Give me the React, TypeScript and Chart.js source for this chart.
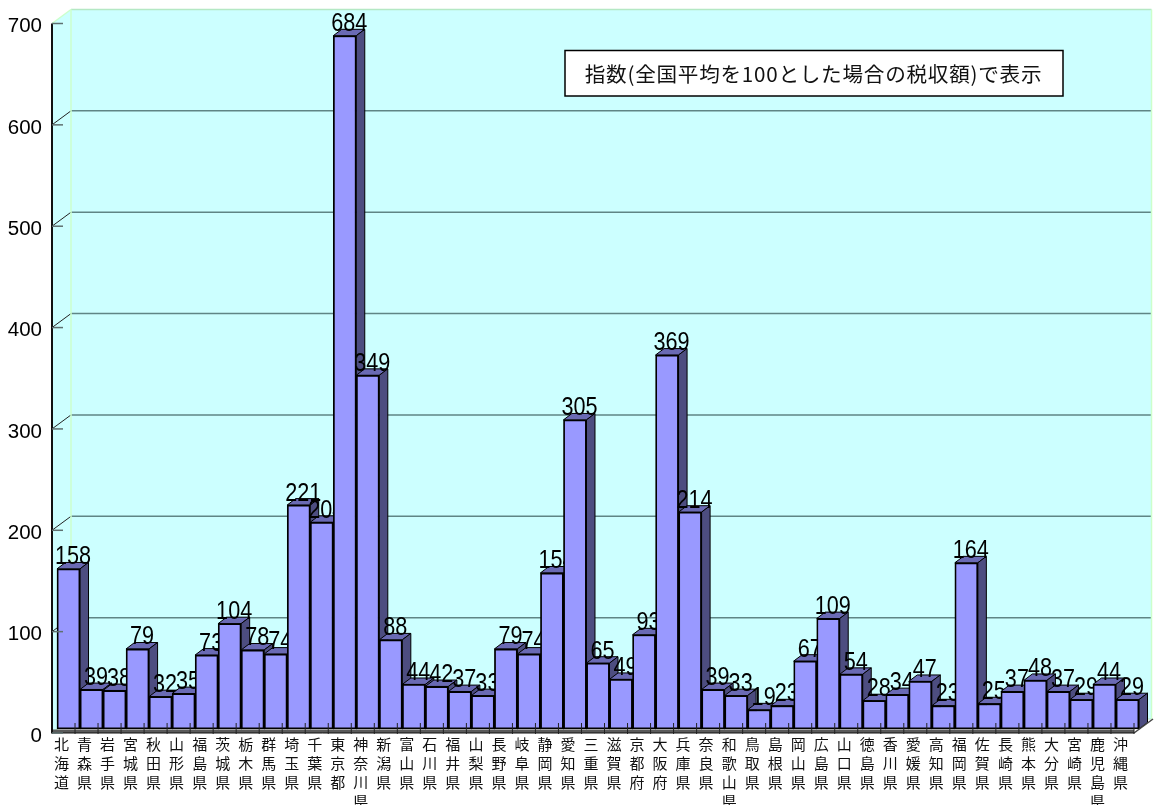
import React, { useEffect, useRef } from "react";
import { Chart, registerables } from "chart.js";

Chart.register(...registerables);

const prefectures = ["北海道","青森県","岩手県","宮城県","秋田県","山形県","福島県","茨城県","栃木県","群馬県","埼玉県","千葉県","東京都","神奈川県","新潟県","富山県","石川県","福井県","山梨県","長野県","岐阜県","静岡県","愛知県","三重県","滋賀県","京都府","大阪府","兵庫県","奈良県","和歌山県","鳥取県","島根県","岡山県","広島県","山口県","徳島県","香川県","愛媛県","高知県","福岡県","佐賀県","長崎県","熊本県","大分県","宮崎県","鹿児島県","沖縄県"];
const indexValues = [158,39,38,79,32,35,73,104,78,74,221,204,684,349,88,44,42,37,33,79,74,154,305,65,49,93,369,214,39,33,19,23,67,109,54,28,34,47,23,164,25,37,48,37,29,44,29];
const noteText = "指数(全国平均を100とした場合の税収額)で表示";

const WALL_DX = 19, WALL_DY = 14;
const BAR_OX = 5, BAR_OY = 4;
const BAR_DX = 8.5, BAR_DY = 6.4;

function poly(ctx: CanvasRenderingContext2D, pts: number[][], fill: string | null, stroke?: string, lw = 1) {
  ctx.beginPath();
  pts.forEach((p, i) => (i ? ctx.lineTo(p[0], p[1]) : ctx.moveTo(p[0], p[1])));
  ctx.closePath();
  if (fill) { ctx.fillStyle = fill; ctx.fill(); }
  if (stroke) { ctx.strokeStyle = stroke; ctx.lineWidth = lw; ctx.stroke(); }
}
function line(ctx: CanvasRenderingContext2D, x1: number, y1: number, x2: number, y2: number, c: string, lw: number) {
  ctx.beginPath(); ctx.moveTo(x1, y1); ctx.lineTo(x2, y2);
  ctx.strokeStyle = c; ctx.lineWidth = lw; ctx.stroke();
}

const walls3d = {
  id: "walls3d",
  beforeDatasetsDraw(chart: any) {
    const { ctx, scales } = chart;
    const { left: l, right: r, top: t, bottom: b } = chart.chartArea;
    const dx = WALL_DX, dy = WALL_DY;
    const wallR = r + dx - 1.5;
    ctx.save();
    poly(ctx, [[l + dx, t - dy], [wallR, t - dy], [wallR, b - dy], [l + dx, b - dy]], "#CCFFFF");
    poly(ctx, [[l, t], [l + dx, t - dy], [l + dx, b - dy], [l, b]], "#CCFFFF");
    poly(ctx, [[l, b], [l + dx, b - dy], [wallR, b - dy], [r, b]], "#FFFFFF");
    scales.y.ticks.forEach((tk: any) => {
      const y = scales.y.getPixelForValue(tk.value);
      if (tk.value > 0 && tk.value < 700) {
        line(ctx, l + dx, y - dy, wallR, y - dy, "#5F8585", 1.5);
        line(ctx, l, y, l + dx, y - dy, "#222222", 1);
      }
    });
    line(ctx, l + dx, t - dy, wallR, t - dy, "#B4E8C4", 1.5);
    line(ctx, l, t, l + dx, t - dy, "#CCFFCC", 1.5);
    line(ctx, l + dx, t - dy, l + dx, b - dy, "#CCFFCC", 1.5);
    line(ctx, wallR, t - dy, wallR, b - dy, "#CCFFCC", 1.5);
    line(ctx, l + dx, b - dy, wallR, b - dy, "#B4E8C4", 1);
    line(ctx, l, b, l + dx, b - dy, "#CCFFCC", 1.5);
    ctx.restore();
  },
  beforeDatasetDraw(chart: any, args: any) {
    const { ctx } = chart;
    const els = args.meta.data;
    ctx.save();
    ctx.translate(BAR_OX, -BAR_OY);
    els.forEach((el: any, i: number) => {
      const { x, y, base, width } = el.getProps(["x", "y", "base", "width"]);
      const L = x - width / 2, R = x + width / 2;
      poly(ctx, [[L, y], [L + BAR_DX, y - BAR_DY], [R + BAR_DX, y - BAR_DY], [R, y]], "#6A6AB4", "#000", 1);
      poly(ctx, [[R, y], [R + BAR_DX, y - BAR_DY], [R + BAR_DX, base - BAR_DY], [R, base]], "#4D4D80", "#000", 1);
      el.draw(ctx);
      ctx.save();
      ctx.translate(x + 4.5, y - 4.5);
      ctx.scale(0.865, 1);
      ctx.font = '25px "Liberation Sans"';
      ctx.fillStyle = "#000";
      ctx.textAlign = "center";
      ctx.textBaseline = "alphabetic";
      ctx.fillText(String(indexValues[i]), 0, 0);
      ctx.restore();
    });
    ctx.restore();
    return false;
  },
  afterDatasetsDraw(chart: any) {
    const { ctx, scales } = chart;
    const { left: l, right: r, top: t, bottom: b } = chart.chartArea;
    ctx.save();
    poly(ctx, [[l, b - 3.5], [r, b - 3.5], [r, b], [l, b]], "#5A5A5A");
    line(ctx, l, b, r, b, "#111111", 1);
    line(ctx, r, b, r + WALL_DX, b - WALL_DY, "#444444", 1.5);
    line(ctx, l, t, l, b + 0.5, "#111111", 2);
    scales.y.ticks.forEach((tk: any) => {
      const y = scales.y.getPixelForValue(tk.value);
      line(ctx, l, y, l + 11, y, "#5F7070", 1.5);
    });
    const n = prefectures.length;
    for (let i = 1; i <= n; i++) {
      const x = l + (i * (r - l)) / n;
      line(ctx, x, b - 10, x, b + 1, "#222222", 1);
    }
    const bx = 565, by = 50.5, bw = 498, bh = 45.5;
    ctx.fillStyle = "#FFF";
    ctx.fillRect(bx, by, bw, bh);
    ctx.strokeStyle = "#000";
    ctx.lineWidth = 1.5;
    ctx.strokeRect(bx, by, bw, bh);
    ctx.font = '20.6px "Noto Sans CJK JP"';
    ctx.fillStyle = "#111";
    ctx.textAlign = "center";
    ctx.textBaseline = "middle";
    (ctx as any).letterSpacing = "0.75px";
    ctx.fillText(noteText, bx + bw / 2 - 0.5, by + bh / 2 + 1);
    ctx.restore();
  },
};

export default function App() {
  const ref = useRef<HTMLCanvasElement>(null);
  useEffect(() => {
    const chart = new Chart(ref.current!, {
      type: "bar",
      data: {
        labels: prefectures.map((p) => Array.from(p)),
        datasets: [{
          data: indexValues,
          backgroundColor: "#9999FF",
          borderColor: "#000000",
          borderWidth: 1.8,
          borderSkipped: false,
          barPercentage: 1,
          categoryPercentage: 1,
        }],
      },
      options: {
        responsive: false,
        animation: false,
        layout: { padding: { top: 23.5, right: 21, left: 0, bottom: 0 } },
        plugins: { legend: { display: false }, title: { display: false }, tooltip: { enabled: false } },
        scales: {
          x: {
            grid: { display: false, drawTicks: false },
            border: { display: false },
            afterFit: (s: any) => { s.height = 72; },
            ticks: {
              autoSkip: false,
              maxRotation: 0,
              minRotation: 0,
              padding: 2,
              labelOffset: -2,
              color: "#111",
              font: { family: '"Noto Sans CJK JP"', size: 15, lineHeight: 19 / 15 },
            },
          },
          y: {
            min: 0,
            max: 700,
            grid: { display: false, drawTicks: false },
            border: { display: false },
            afterFit: (s: any) => { s.width = 52; },
            ticks: {
              stepSize: 100,
              padding: 10,
              labelOffset: 3,
              color: "#000",
              font: { family: '"Liberation Sans"', size: 20.5 },
            },
          },
        },
      },
      plugins: [walls3d],
    } as any);
    return () => chart.destroy();
  }, []);
  return (
    <canvas
      ref={ref}
      width={1155}
      height={805}
      style={{ position: "fixed", left: 0, top: 0, width: 1155, height: 805, display: "block" }}
    />
  );
}
